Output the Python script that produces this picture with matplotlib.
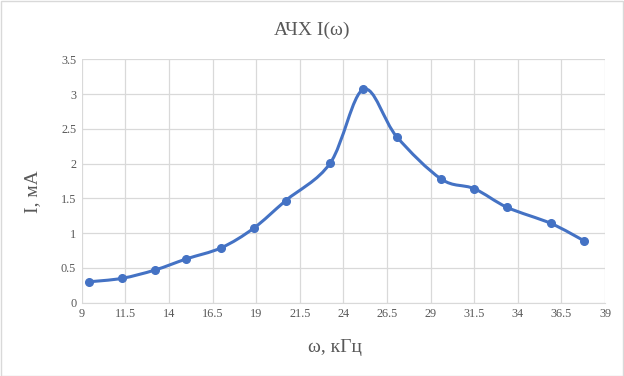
import numpy as np
import matplotlib.pyplot as plt
from matplotlib.path import Path
from matplotlib.patches import PathPatch, Rectangle

# данные
freq = [9.4, 11.3, 13.2, 15.0, 17.0, 18.85, 20.7, 23.25, 25.15, 27.05, 29.6, 31.5, 33.4, 35.9, 37.8]
current = [0.30, 0.35, 0.47, 0.63, 0.79, 1.07, 1.47, 2.01, 3.07, 2.39, 1.78, 1.64, 1.37, 1.14, 0.89]
x_ticks = np.arange(9, 39.1, 2.5)
y_ticks = np.arange(0, 3.51, 0.5)

blue = '#4472C4'
grey = '#595959'

plt.rcParams['font.family'] = ['Liberation Serif', 'DejaVu Serif']

fig = plt.figure(figsize=(6.24, 3.76), dpi=100)
fig.patches.append(Rectangle((0.001, 0.001), 0.998, 0.997, transform=fig.transFigure,
                             fill=False, edgecolor='#D9D9D9', linewidth=1))
ax = fig.add_axes([0.131, 0.195, 0.8386, 0.647])

# сглаженная линия как в Excel (Catmull-Rom -> Безье)
P = np.column_stack([freq, current])
verts = [P[0]]
codes = [Path.MOVETO]
n = len(P)
for i in range(n - 1):
    p0 = P[i - 1] if i > 0 else P[i]
    p3 = P[i + 2] if i + 2 < n else P[i + 1]
    c1 = P[i] + (P[i + 1] - p0) / 6
    c2 = P[i + 1] - (p3 - P[i]) / 6
    verts += [c1, c2, P[i + 1]]
    codes += [Path.CURVE4] * 3
ax.add_patch(PathPatch(Path(verts, codes), fill=False, edgecolor=blue, linewidth=2.2, zorder=3))
ax.plot(freq, current, 'o', color=blue, markersize=5.5, zorder=4)

ax.set_xlim(9, 39)
ax.set_ylim(0, 3.5)
ax.set_xticks(x_ticks)
ax.set_xticklabels([f'{v:g}' for v in x_ticks])
ax.set_yticks(y_ticks)
ax.set_yticklabels([f'{v:g}' for v in y_ticks])
ax.grid(True, color='#D9D9D9', linewidth=0.9)
ax.set_axisbelow(True)
for s in ['top', 'right', 'left']:
    ax.spines[s].set_visible(False)
ax.spines['bottom'].set_color('#D9D9D9')
ax.tick_params(length=0, labelsize=8.8, labelcolor=grey, pad=4)

fig.text(0.5, 0.918, 'АЧХ I(ω)', ha='center', va='center', fontsize=14, color=grey)
fig.text(0.537, 0.077, 'ω, кГц', ha='center', va='center', fontsize=14, color=grey)
fig.text(0.053, 0.49, 'I, мА', ha='center', va='center', rotation=90, fontsize=14, color=grey)

fig.savefig('out.png', dpi=100)
